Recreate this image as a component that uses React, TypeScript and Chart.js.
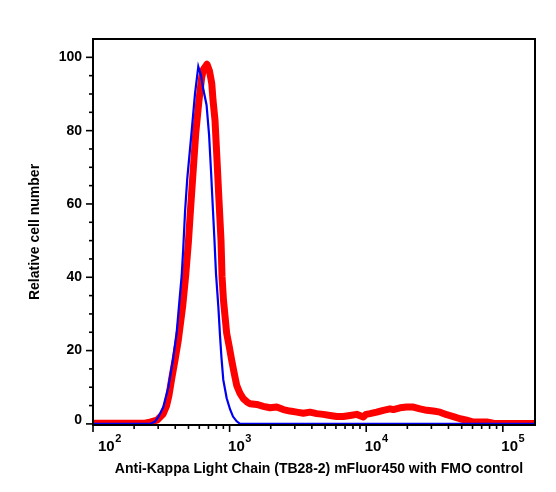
import React, { useEffect, useRef } from 'react';
import { Chart, registerables } from 'chart.js';

Chart.register(...registerables);

// Sample (red, thick) histogram: fluorescence intensity and relative cell number
const sampleIntensity = [100, 240, 261, 294, 309, 325, 346, 360, 377, 398, 421, 454, 477, 499, 517, 537, 565, 597, 625, 644, 660, 683, 713, 740, 756, 782, 809, 836, 865, 880, 902, 952, 990, 1036, 1077, 1127, 1192, 1260, 1341, 1411, 1579, 1765, 1976, 2213, 2473, 2769, 3099, 3464, 3879, 4342, 4852, 5433, 6081, 6798, 7610, 8520, 9524, 9966, 10660, 11940, 13340, 14940, 15790, 17680, 19800, 22130, 24770, 27740, 30990, 34700, 38850, 43420, 48610, 54410, 60810, 76220, 85200, 95400, 172000];
const sampleCount = [0.2, 0.2, 0.5, 1.0, 1.8, 2.6, 5.0, 7.8, 12.4, 17.3, 22.8, 32.3, 40.5, 49.5, 58.3, 67.3, 79.3, 88.3, 94.6, 96.8, 97.3, 98.1, 96.2, 92.9, 88.3, 82.8, 71.9, 61.0, 50.1, 40.3, 33.7, 24.7, 21.4, 17.3, 14.1, 10.5, 8.3, 6.9, 6.0, 5.5, 5.3, 4.8, 4.4, 4.6, 3.9, 3.5, 3.2, 2.9, 3.2, 2.8, 2.6, 2.3, 2.0, 2.0, 2.3, 2.6, 1.9, 2.6, 2.8, 3.2, 3.7, 4.1, 3.9, 4.4, 4.6, 4.6, 4.1, 3.7, 3.5, 3.2, 2.5, 2.0, 1.4, 1.0, 0.5, 0.5, 0.2, 0.1, 0.1];

// FMO control (blue, thin) histogram
const fmoIntensity = [100, 261, 284, 301, 327, 356, 385, 410, 428, 446, 458, 472, 490, 528, 558, 590, 618, 644, 678, 707, 731, 756, 775, 795, 827, 851, 872, 899, 952, 1007, 1059, 1127, 1192, 172000];
const fmoCount = [0, 0, 0.6, 1.9, 4.6, 10.0, 17.5, 25, 33, 40.5, 48, 58, 67, 80, 90, 97.5, 95, 91, 87, 79, 69, 58, 50, 41, 32, 24, 18, 12, 7.0, 4.0, 2.0, 0.7, 0, 0];

const xTickExponents = [2, 3, 4, 5];
const yTickLabels = [0, 20, 40, 60, 80, 100];
const xTitle = 'Anti-Kappa Light Chain (TB28-2) mFluor450 with FMO control';
const yTitle = 'Relative cell number';

const FONT = '"Liberation Sans", Arial, Helvetica, sans-serif';

const axesPlugin = {
  id: 'flowAxes',
  afterDatasetsDraw(chart: any) {
    const { ctx, chartArea: a } = chart;
    const xs = chart.scales.x;
    const ys = chart.scales.y;
    ctx.save();
    ctx.strokeStyle = '#000';
    ctx.fillStyle = '#000';
    ctx.lineWidth = 2;
    ctx.strokeRect(a.left, a.top, a.right - a.left, a.bottom - a.top);

    // y ticks
    ctx.lineWidth = 1.6;
    for (let v = 0; v <= 100; v += 5) {
      const py = ys.getPixelForValue(v);
      const len = v % 20 === 0 ? 7 : 4;
      ctx.beginPath();
      ctx.moveTo(a.left - len, py);
      ctx.lineTo(a.left, py);
      ctx.stroke();
    }
    // x ticks
    for (let d = 2; d <= 5; d++) {
      for (let m = 1; m <= 9; m++) {
        const v = m * Math.pow(10, d);
        if (v < xs.min || v > xs.max) continue;
        const px = xs.getPixelForValue(v);
        const len = m === 1 ? 7 : 4;
        ctx.beginPath();
        ctx.moveTo(px, a.bottom);
        ctx.lineTo(px, a.bottom + len);
        ctx.stroke();
      }
    }

    // y tick labels
    ctx.font = `bold 14px ${FONT}`;
    ctx.textAlign = 'right';
    ctx.textBaseline = 'middle';
    yTickLabels.forEach((v) => {
      const py = ys.getPixelForValue(v) + (v === 0 ? -4 : 0);
      ctx.fillText(String(v), a.left - 11, py);
    });

    // x tick labels (10 with superscript exponent)
    ctx.textAlign = 'left';
    ctx.textBaseline = 'alphabetic';
    xTickExponents.forEach((e) => {
      const px = xs.getPixelForValue(Math.pow(10, e));
      const start = Math.max(px - 1.5, a.left + 5);
      ctx.font = `bold 15px ${FONT}`;
      ctx.fillText('10', start, a.bottom + 26);
      const w = ctx.measureText('10').width;
      ctx.font = `bold 11px ${FONT}`;
      ctx.fillText(String(e), start + w + 0.5, a.bottom + 17);
    });

    // x axis title
    ctx.font = `bold 14px ${FONT}`;
    ctx.textAlign = 'center';
    ctx.fillText(xTitle, (a.left + a.right) / 2 + 5, a.bottom + 47.5);
    ctx.restore();
  },
};

export default function App() {
  const ref = useRef<HTMLCanvasElement>(null);

  useEffect(() => {
    if (!ref.current) return;
    const chart = new Chart(ref.current, {
      type: 'line',
      data: {
        datasets: [
          {
            label: 'FMO control',
            data: fmoIntensity.map((x, i) => ({ x, y: fmoCount[i] })),
            borderColor: '#0000f0',
            borderWidth: 2.2,
            pointRadius: 0,
            tension: 0,
            fill: false,
          },
          {
            label: 'Anti-Kappa Light Chain',
            data: sampleIntensity.map((x, i) => ({ x, y: sampleCount[i] })),
            borderColor: '#ff0000',
            borderWidth: 7,
            borderJoinStyle: 'round',
            borderCapStyle: 'round',
            pointRadius: 0,
            tension: 0,
            fill: false,
          },
        ],
      },
      options: {
        responsive: false,
        animation: false,
        devicePixelRatio: 1,
        layout: { padding: { top: 39, right: 21, left: 0, bottom: 0 } },
        plugins: {
          legend: { display: false },
          tooltip: { enabled: false },
        },
        scales: {
          x: {
            type: 'logarithmic',
            min: 100,
            max: 172000,
            ticks: { display: false },
            grid: { display: false },
            border: { display: false },
            afterFit: (s: any) => {
              s.height = 67;
            },
          },
          y: {
            type: 'linear',
            min: -0.3,
            max: 105,
            ticks: { display: false },
            grid: { display: false },
            border: { display: false },
            title: {
              display: true,
              text: yTitle,
              color: '#000',
              font: { family: FONT, size: 14, weight: 'bold' },
              padding: { top: 27, bottom: 0 },
            },
            afterFit: (s: any) => {
              s.width = 93;
            },
          },
        },
      },
      plugins: [axesPlugin],
    } as any);
    return () => chart.destroy();
  }, []);

  return (
    <div style={{ position: 'absolute', left: 0, top: 0, width: 556, height: 492, background: '#fff' }}>
      <canvas ref={ref} width={556} height={492} />
    </div>
  );
}
